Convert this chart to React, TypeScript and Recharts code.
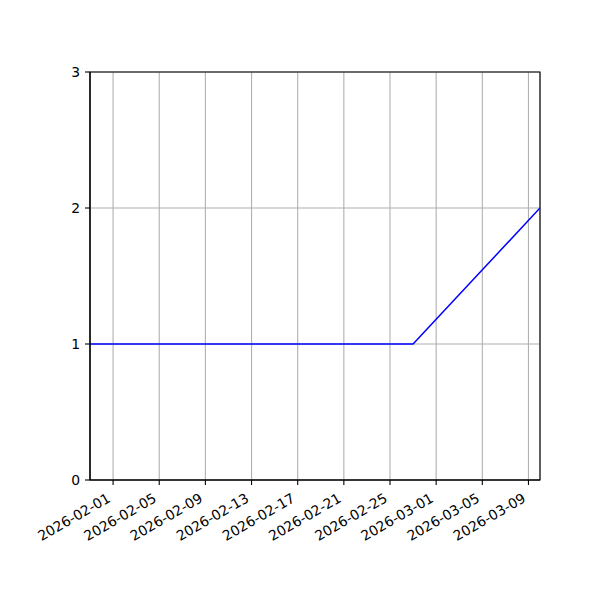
import React from "react";
import {
  LineChart,
  Line,
  XAxis,
  YAxis,
  CartesianGrid,
  ReferenceArea,
} from "recharts";

const pointDates = ["2026-01-30", "2026-02-27", "2026-03-10"];
const pointValues = [1, 1, 2];
const xTickDates = [
  "2026-02-01",
  "2026-02-05",
  "2026-02-09",
  "2026-02-13",
  "2026-02-17",
  "2026-02-21",
  "2026-02-25",
  "2026-03-01",
  "2026-03-05",
  "2026-03-09",
];
const yTicks = [0, 1, 2, 3];
const xDomainDates = ["2026-01-30", "2026-03-10"];

const toTs = (s: string) => {
  const [y, m, d] = s.split("-").map(Number);
  return Date.UTC(y, m - 1, d);
};
const fmt = (t: number) => {
  const d = new Date(t);
  const mm = String(d.getUTCMonth() + 1).padStart(2, "0");
  const dd = String(d.getUTCDate()).padStart(2, "0");
  return `${d.getUTCFullYear()}-${mm}-${dd}`;
};

const data = pointDates.map((d, i) => ({ t: toTs(d), v: pointValues[i] }));
const xTicks = xTickDates.map(toTs);
const xMin = toTs(xDomainDates[0]);
const xMax = toTs(xDomainDates[1]);

const FONT = "DejaVu Sans";
const FS = 13.9;

const XTick = (props: any) => {
  const { x, y, payload } = props;
  const tx = x - 1.7;
  const ty = y + 16;
  return (
    <text
      x={tx}
      y={ty}
      textAnchor="end"
      fontFamily={FONT}
      fontSize={FS}
      fill="#000"
      transform={`rotate(-30, ${tx}, ${ty})`}
    >
      {fmt(payload.value)}
    </text>
  );
};

export default function App() {
  return (
    <div style={{ position: "absolute", left: 0, top: 0, width: 600, height: 600, background: "#fff" }}>
      <LineChart
        width={600}
        height={600}
        data={data}
        margin={{ top: 72, right: 60, left: 0, bottom: 0 }}
      >
        <CartesianGrid stroke="#b0b0b0" strokeWidth={1.1} />
        <XAxis
          dataKey="t"
          type="number"
          scale="linear"
          domain={[xMin, xMax]}
          allowDataOverflow
          ticks={xTicks}
          interval={0}
          height={120}
          tickSize={5}
          tickMargin={0}
          tickLine={{ stroke: "#000", strokeWidth: 1.1 }}
          axisLine={{ stroke: "#000", strokeWidth: 1.1 }}
          tick={<XTick />}
        />
        <YAxis
          type="number"
          domain={[0, 3]}
          ticks={yTicks}
          interval={0}
          width={90}
          tickSize={5}
          tickMargin={5}
          tickLine={{ stroke: "#000", strokeWidth: 1.1 }}
          axisLine={{ stroke: "#000", strokeWidth: 1.1 }}
          tick={{ fontFamily: FONT, fontSize: FS, fill: "#000" }}
        />
        <Line
          type="linear"
          dataKey="v"
          stroke="#0000ff"
          strokeWidth={1.5}
          dot={false}
          isAnimationActive={false}
        />
        <ReferenceArea
          x1={xMin}
          x2={xMax}
          y1={0}
          y2={3}
          stroke="#000"
          strokeWidth={1.1}
          fill="none"
          fillOpacity={0}
          ifOverflow="visible"
        />
      </LineChart>
    </div>
  );
}
